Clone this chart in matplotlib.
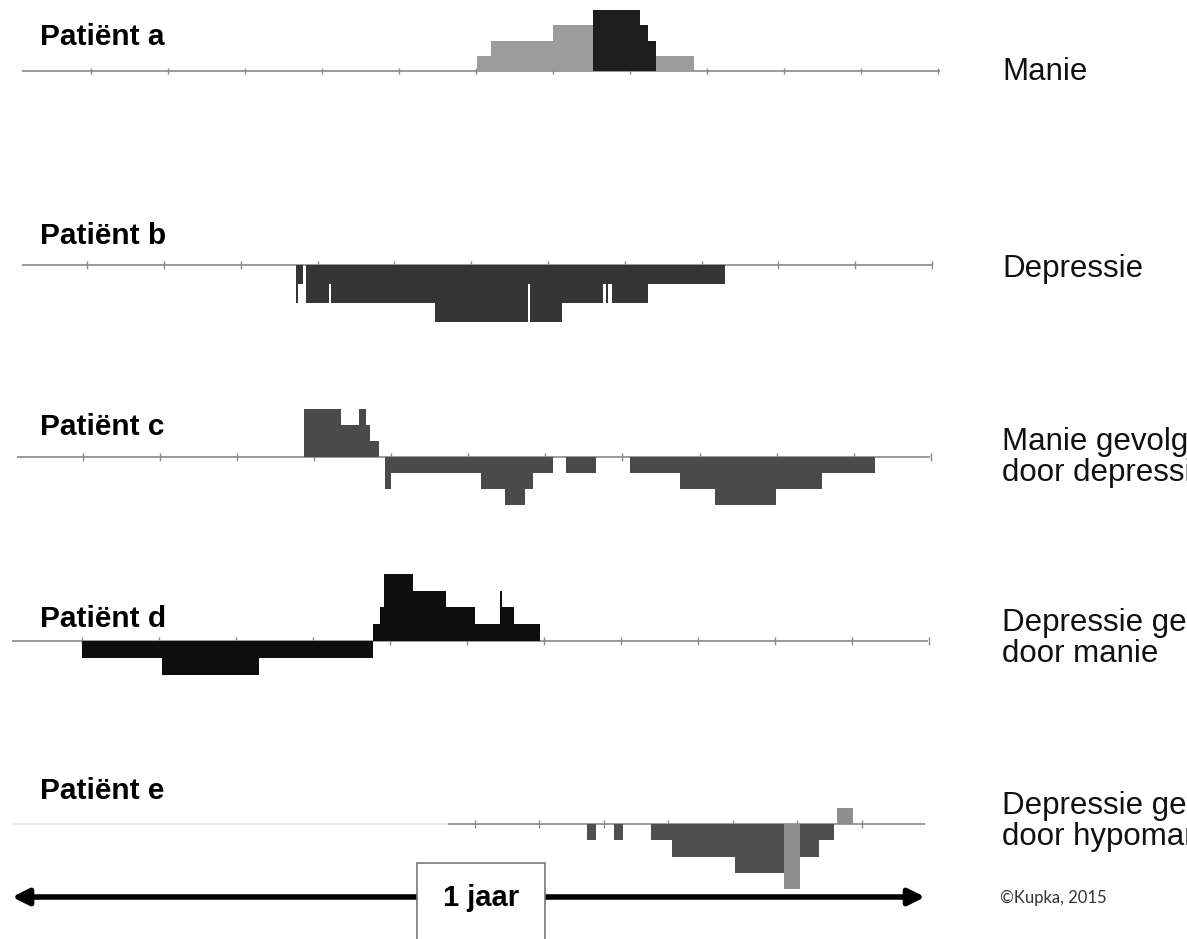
import matplotlib
matplotlib.use("Agg")
import matplotlib.pyplot as plt
from matplotlib.patches import Rectangle

# ---------------- data (time in months, level = severity steps; + mania, - depression)
patients = ["Patiënt a", "Patiënt b", "Patiënt c", "Patiënt d", "Patiënt e"]
descriptions = [
    ["Manie"],
    ["Depressie"],
    ["Manie gevolgd", "door depressie"],
    ["Depressie gevolgd", "door manie"],
    ["Depressie gevolgd", "door hypomanie"],
]

a_start = [4.98, 5.16, 5.96, 6.48, 6.48, 6.48]
a_end   = [7.78, 6.48, 6.48, 7.29, 7.19, 7.08]
a_level = [1, 2, 3, 2, 3, 4]
a_tone  = ["light", "light", "light", "dark", "dark", "dark"]

b_start = [2.65, 2.65, 2.77, 2.77, 3.10, 5.66, 6.65, 6.72, 4.44, 5.66]
b_end   = [2.67, 2.74, 8.18, 3.07, 5.64, 6.61, 6.67, 7.19, 5.64, 6.08]
b_level = [-2, -1, -1, -2, -2, -2, -2, -2, -3, -3]
b_tone  = ["dark"] * 10

c_start = [2.75, 2.75, 2.75, 3.46, 3.79, 3.79, 5.03, 5.34, 6.13, 6.95, 7.60, 8.05]
c_end   = [3.72, 3.60, 3.23, 3.55, 5.96, 3.87, 5.70, 5.60, 6.52, 10.12, 9.43, 8.84]
c_level = [1, 2, 3, 3, -1, -2, -2, -3, -1, -1, -2, -3]
c_tone  = ["dark"] * 12

d_start = [-0.12, 0.92, 3.64, 3.73, 3.78, 3.78, 5.28, 5.28]
d_end   = [3.64, 2.17, 5.79, 4.95, 4.58, 4.15, 5.46, 5.30]
d_level = [-1, -2, 1, 2, 3, 4, 2, 3]
d_tone  = ["dark"] * 8

e_start = [6.40, 6.75, 7.23, 7.50, 8.31, 8.94, 9.63]
e_end   = [6.52, 6.86, 9.59, 9.39, 8.94, 9.15, 9.83]
e_level = [-1, -1, -1, -2, -3, -4, 1]
e_tone  = ["dark", "dark", "dark", "dark", "dark", "light", "light"]

series = [
    (a_start, a_end, a_level, a_tone),
    (b_start, b_end, b_level, b_tone),
    (c_start, c_end, c_level, c_tone),
    (d_start, d_end, d_level, d_tone),
    (e_start, e_end, e_level, e_tone),
]

# ---------------- styling / layout (pixels of the 1187x939 canvas)
W, H = 1187, 939
PX_PER_MONTH = 77.5
ORIGIN_PX = 91.0
xlim = ((0 - ORIGIN_PX) / PX_PER_MONTH, (W - ORIGIN_PX) / PX_PER_MONTH)

baseline_px = [71, 265, 457, 641, 824]
unit_px = [15.2, 19.0, 16.0, 16.8, 16.3]
line_span = [(-0.89, 10.95), (-0.89, 10.86), (-0.95, 10.83), (-1.02, 10.80), (4.61, 10.76)]
faint_span = [None, None, None, None, (-1.02, 4.61)]
tick_first = [0.0, -0.05, -0.10, -0.12, 4.95]
tick_step = [0.994, 0.991, 0.994, 0.994, 0.832]
tick_count = [12, 12, 12, 12, 7]
colors = [
    {"light": "#9c9c9c", "dark": "#1e1e1e"},
    {"dark": "#353535"},
    {"dark": "#4a4a4a"},
    {"dark": "#0e0e0e"},
    {"dark": "#4f4f4f", "light": "#8e8e8e"},
]
label_base_px = [45, 244, 435, 627, 799]
desc_base_px = [[80], [277], [450, 481], [631, 662], [814, 845]]

fig = plt.figure(figsize=(W / 100, H / 100), dpi=100)
fig.patch.set_facecolor("white")

EXT = 5
for i in range(5):
    u = unit_px[i]
    b = baseline_px[i]
    ax = fig.add_axes([0, 1 - (b + EXT * u) / H, 1, 2 * EXT * u / H])
    ax.set_xlim(*xlim)
    ax.set_ylim(-EXT, EXT)
    ax.axis("off")
    ax.patch.set_alpha(0)
    if faint_span[i] is not None:
        ax.plot(faint_span[i], [0, 0], color="#e6e6dc", lw=1.2, solid_capstyle="butt")
    ax.plot(line_span[i], [0, 0], color="#9a9a9a", lw=1.4, solid_capstyle="butt", zorder=1)
    ticks = [tick_first[i] + k * tick_step[i] for k in range(tick_count[i])]
    ax.vlines(ticks, -0.22, 0.22, color="#8a8a8a", lw=1.0, zorder=1)
    st, en, lv, tn = series[i]
    for s, e_, l, t in zip(st, en, lv, tn):
        ax.bar(s, l, width=e_ - s, align="edge", bottom=0,
               color=colors[i][t], linewidth=0, zorder=2)

    fig.text(40 / W, 1 - label_base_px[i] / H, patients[i], fontsize=21.5,
             fontweight="bold", family="Liberation Sans", va="baseline", ha="left")
    for line, y in zip(descriptions[i], desc_base_px[i]):
        fig.text(1002 / W, 1 - y / H, line, fontsize=22.5, family="Liberation Sans",
                 va="baseline", ha="left", color="#111111")

# ---------------- bottom "1 jaar" arrow
axb = fig.add_axes([0, 0, 1, 80 / H])
axb.set_xlim(*xlim)
axb.set_ylim(0, 80)
axb.axis("off")
axb.patch.set_alpha(0)
arrow_y = 939 - 897
axb.annotate("", xy=(xlim[0] + 12 / PX_PER_MONTH, arrow_y),
             xytext=(xlim[0] + 925 / PX_PER_MONTH, arrow_y),
             arrowprops=dict(arrowstyle="<|-|>", color="black", lw=4,
                             mutation_scale=24, shrinkA=0, shrinkB=0))
box_left = xlim[0] + 417 / PX_PER_MONTH
box_w = 128 / PX_PER_MONTH
axb.add_patch(Rectangle((box_left, -10), box_w, 939 - 863 + 10, facecolor="white",
                        edgecolor="#777777", lw=1.2, zorder=5, clip_on=False))
axb.text(box_left + box_w / 2, arrow_y - 9, "1 jaar", fontsize=21, fontweight="bold",
         family="Liberation Sans", ha="center", va="baseline", zorder=6)

fig.text(1000 / W, 1 - 903 / H, "©Kupka, 2015", fontsize=12, family="Lato",
         color="#333333", va="baseline", ha="left")

fig.savefig("out.png", dpi=100, facecolor="white")
